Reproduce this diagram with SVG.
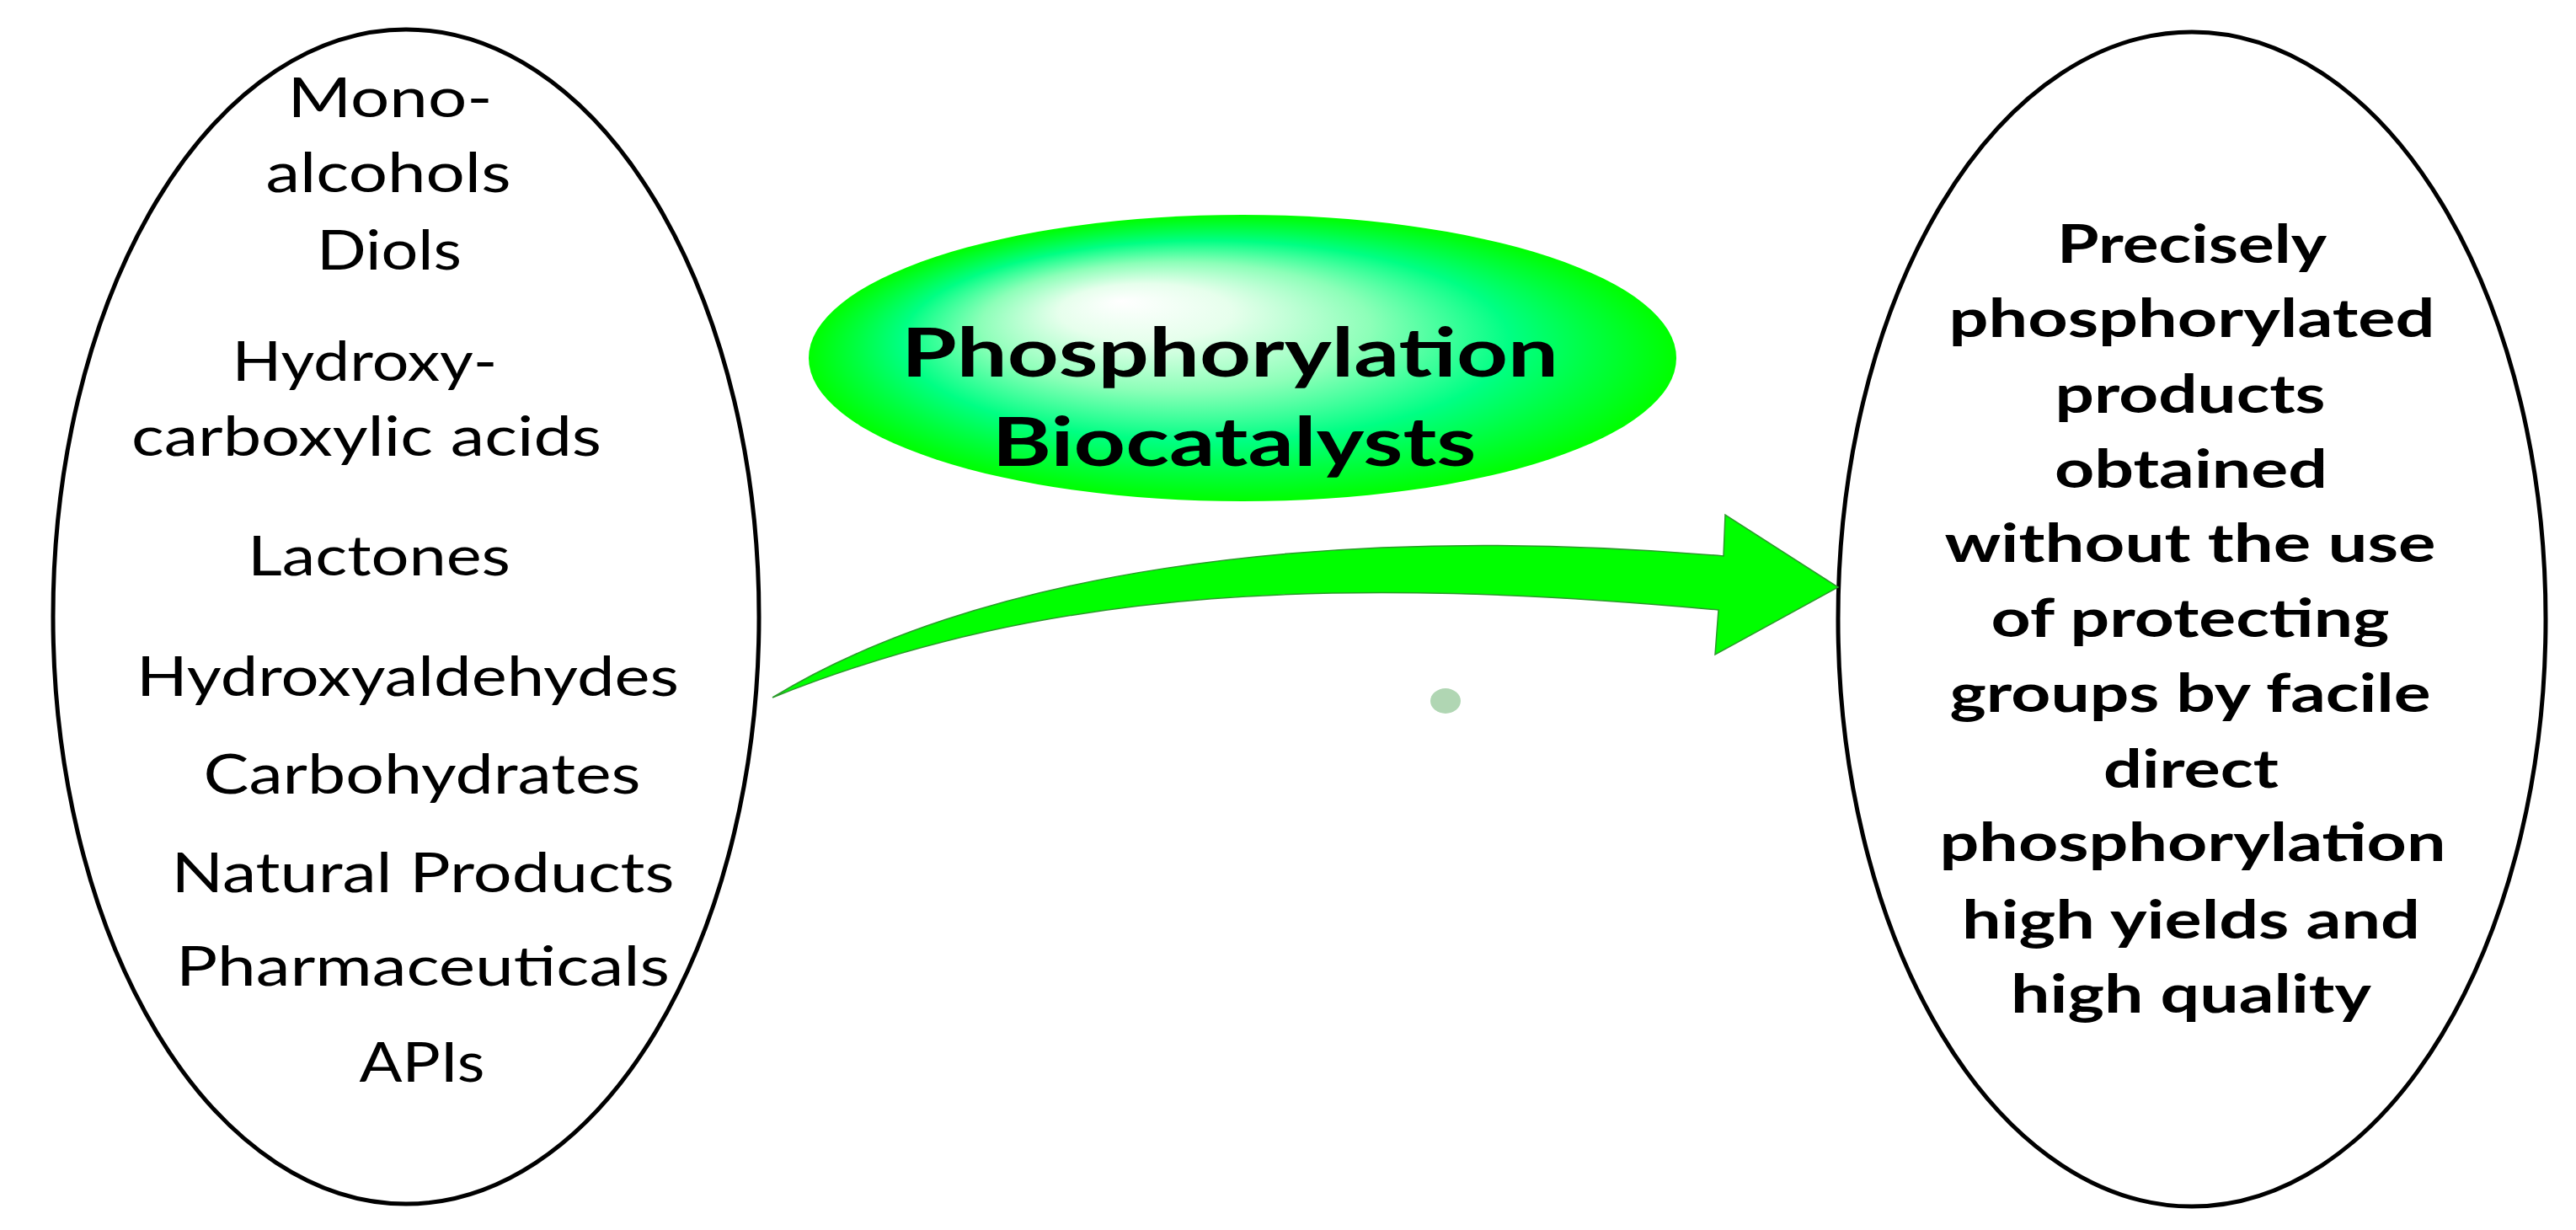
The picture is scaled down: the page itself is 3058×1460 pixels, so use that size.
<svg xmlns="http://www.w3.org/2000/svg" width="3058" height="1460" viewBox="0 0 3058 1460">
<style>
.oval{fill:#ffffff;stroke:#000000;stroke-width:5}
.lt{font-family:Lato,"Open Sans","Liberation Sans",sans-serif;font-size:66px;fill:#000;text-anchor:middle}
.rt{font-family:Lato,"Open Sans","Liberation Sans",sans-serif;font-weight:bold;font-size:63px;fill:#000;text-anchor:middle}
.gt{font-family:Lato,"Open Sans","Liberation Sans",sans-serif;font-weight:bold;font-size:80px;fill:#000;text-anchor:middle}
</style>
<defs>
<radialGradient id="gg" cx="0.5" cy="0.5" r="0.5" fx="0.36" fy="0.3">
<stop offset="0" stop-color="#ffffff"/>
<stop offset="0.2" stop-color="#e6ffec"/>
<stop offset="0.45" stop-color="#8cffb8"/>
<stop offset="0.7" stop-color="#00ff84"/>
<stop offset="0.85" stop-color="#00ff40"/>
<stop offset="1" stop-color="#00ff00"/>
</radialGradient>
</defs>
<rect width="3058" height="1460" fill="#ffffff"/>
<g id="substrates">
<ellipse class="oval" cx="482" cy="732" rx="419" ry="697"/>
<text class="lt" x="463" y="139" textLength="243" lengthAdjust="spacingAndGlyphs">Mono-</text>
<text class="lt" x="461" y="228" textLength="291" lengthAdjust="spacingAndGlyphs">alcohols</text>
<text class="lt" x="462" y="320" textLength="172" lengthAdjust="spacingAndGlyphs">Diols</text>
<text class="lt" x="433" y="452" textLength="315" lengthAdjust="spacingAndGlyphs">Hydroxy-</text>
<text class="lt" x="435" y="541" textLength="558" lengthAdjust="spacingAndGlyphs">carboxylic acids</text>
<text class="lt" x="450" y="683" textLength="312" lengthAdjust="spacingAndGlyphs">Lactones</text>
<text class="lt" x="484" y="826" textLength="644" lengthAdjust="spacingAndGlyphs">Hydroxyaldehydes</text>
<text class="lt" x="501" y="942" textLength="519" lengthAdjust="spacingAndGlyphs">Carbohydrates</text>
<text class="lt" x="502" y="1059" textLength="597" lengthAdjust="spacingAndGlyphs">Natural Products</text>
<text class="lt" x="502" y="1170" textLength="586" lengthAdjust="spacingAndGlyphs">Pharmaceuticals</text>
<text class="lt" x="501" y="1284" textLength="149" lengthAdjust="spacingAndGlyphs">APIs</text>
</g>
<g id="catalyst">
<ellipse cx="1475" cy="425" rx="515" ry="170" fill="url(#gg)"/>
<text class="gt" x="1460" y="447" textLength="780" lengthAdjust="spacingAndGlyphs">Phosphorylation</text>
<text class="gt" x="1465" y="553" textLength="575" lengthAdjust="spacingAndGlyphs">Biocatalysts</text>
</g>
<g id="products">
<ellipse class="oval" cx="2602" cy="735" rx="420" ry="697"/>
<text class="rt" x="2602" y="312" textLength="320" lengthAdjust="spacingAndGlyphs">Precisely</text>
<text class="rt" x="2602" y="400" textLength="577" lengthAdjust="spacingAndGlyphs">phosphorylated</text>
<text class="rt" x="2600" y="490" textLength="321" lengthAdjust="spacingAndGlyphs">products</text>
<text class="rt" x="2601" y="579" textLength="324" lengthAdjust="spacingAndGlyphs">obtained</text>
<text class="rt" x="2600" y="667" textLength="583" lengthAdjust="spacingAndGlyphs">without the use</text>
<text class="rt" x="2600" y="756" textLength="473" lengthAdjust="spacingAndGlyphs">of protecting</text>
<text class="rt" x="2600" y="845" textLength="571" lengthAdjust="spacingAndGlyphs">groups by facile</text>
<text class="rt" x="2601" y="935" textLength="208" lengthAdjust="spacingAndGlyphs">direct</text>
<text class="rt" x="2603" y="1022" textLength="601" lengthAdjust="spacingAndGlyphs">phosphorylation</text>
<text class="rt" x="2601" y="1114" textLength="544" lengthAdjust="spacingAndGlyphs">high yields and</text>
<text class="rt" x="2601" y="1202" textLength="428" lengthAdjust="spacingAndGlyphs">high quality</text>
</g>
<g id="connectors">
<path d="M 917 828 C 1150 685, 1550 618, 2046 660 L 2048 611 L 2182 697 L 2036 777 L 2040 724 C 1600 684, 1250 694, 917 828 Z" fill="#00ff00" stroke="#2a9a2a" stroke-width="1.5" stroke-linejoin="miter"/>
</g>
<ellipse id="dot" cx="1716" cy="832" rx="18" ry="15" fill="#b0d6b3"/>
</svg>
